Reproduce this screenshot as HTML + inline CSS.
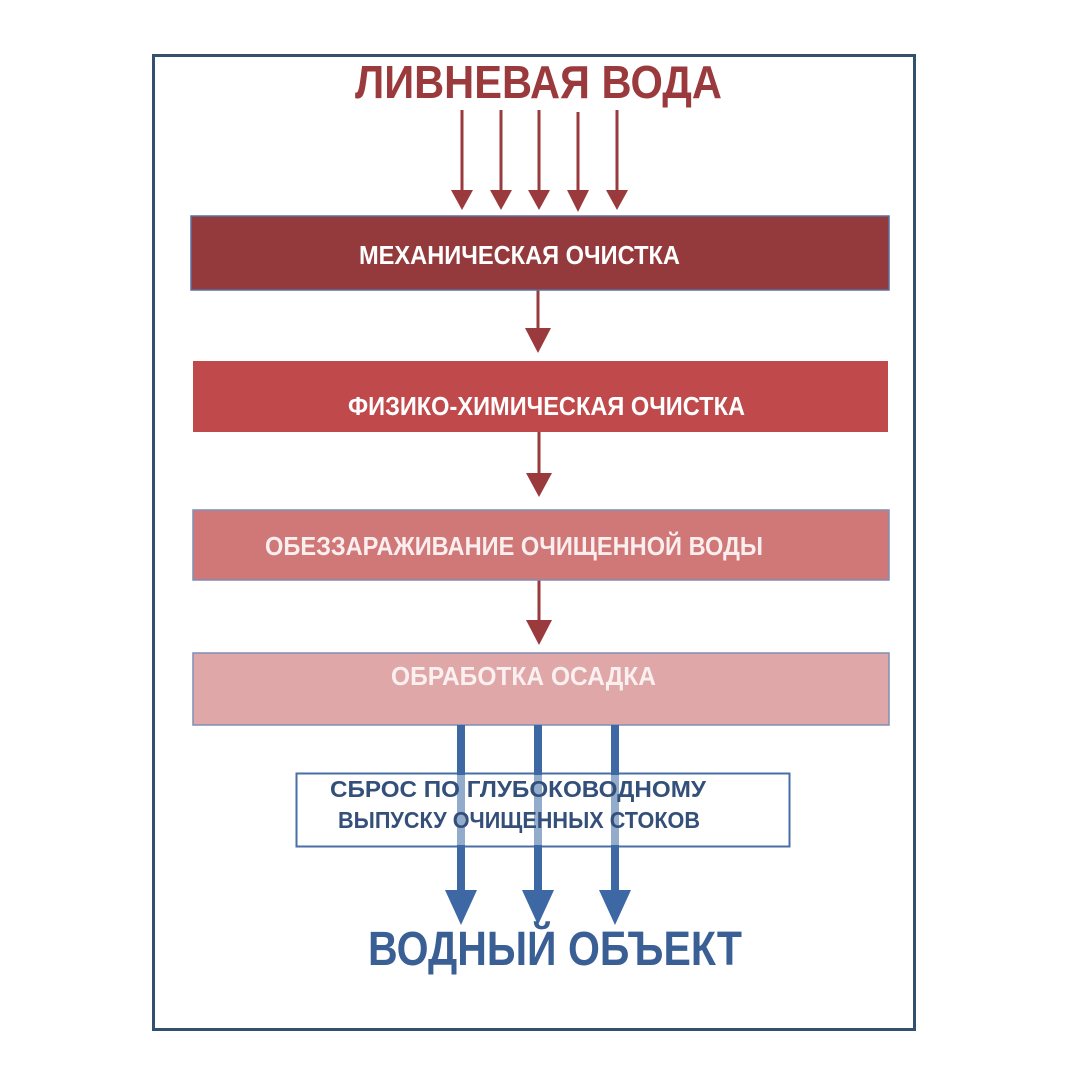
<!DOCTYPE html>
<html><head><meta charset="utf-8"><style>
html,body{margin:0;padding:0;background:#fff;}
svg{display:block;}
text{font-family:"Liberation Sans",sans-serif;font-weight:bold;}
</style></head><body>
<svg width="1080" height="1080" viewBox="0 0 1080 1080" xmlns="http://www.w3.org/2000/svg">
<rect x="0" y="0" width="1080" height="1080" fill="#fff"/>
<rect x="153.5" y="55.5" width="761" height="974" fill="#fff" stroke="#34506f" stroke-width="3"/>
<text x="355" y="98" font-size="46" fill="#9a3a3c" textLength="367" lengthAdjust="spacingAndGlyphs">ЛИВНЕВАЯ ВОДА</text>
<g fill="#9a3a3c" stroke="#9a3a3c">
<g stroke-width="3">
<line x1="462" y1="110" x2="462" y2="192"/><line x1="501" y1="110" x2="501" y2="192"/><line x1="539" y1="110" x2="539" y2="192"/><line x1="578" y1="112" x2="578" y2="192"/><line x1="617" y1="110" x2="617" y2="192"/>
<line x1="538" y1="290" x2="538" y2="330"/><line x1="539" y1="432" x2="539" y2="475"/><line x1="539" y1="580" x2="539" y2="622"/>
</g>
<g stroke="none">
<polygon points="451,190 473,190 462,210"/><polygon points="490,190 512,190 501,210"/><polygon points="528,190 550,190 539,210"/><polygon points="567,190 589,190 578,212"/><polygon points="606,190 628,190 617,210"/>
<polygon points="525,328 551,328 538,353"/><polygon points="526,473 552,473 539,497"/><polygon points="526,620 552,620 539,645"/>
</g></g>
<rect x="191" y="216" width="698" height="74" fill="#953a3c" stroke="#5a6fa0" stroke-width="1.5"/>
<rect x="193" y="361" width="695" height="71" fill="#c0494b"/>
<rect x="193" y="510" width="696" height="70" fill="#d07878" stroke="#7f8fb5" stroke-width="1.5"/>
<rect x="193" y="653" width="696" height="72" fill="#e0a7a9" stroke="#7f8fb5" stroke-width="1.5"/>
<text x="359" y="264" font-size="26" fill="#fff" textLength="321" lengthAdjust="spacingAndGlyphs">МЕХАНИЧЕСКАЯ ОЧИСТКА</text>
<text x="348" y="415" font-size="26" fill="#fff" textLength="397" lengthAdjust="spacingAndGlyphs">ФИЗИКО-ХИМИЧЕСКАЯ ОЧИСТКА</text>
<text x="265" y="555" font-size="26" fill="#fbeeee" textLength="498" lengthAdjust="spacingAndGlyphs">ОБЕЗЗАРАЖИВАНИЕ ОЧИЩЕННОЙ ВОДЫ</text>
<text x="391" y="685" font-size="26" fill="#fbf0f0" textLength="265" lengthAdjust="spacingAndGlyphs">ОБРАБОТКА ОСАДКА</text>
<rect x="296.5" y="773.5" width="493" height="73" fill="#fff" stroke="#4a6fa5" stroke-width="2"/>
<g fill="#3d68a3">
<rect x="457" y="725" width="8" height="170"/><rect x="534" y="725" width="8" height="170"/><rect x="611" y="725" width="8" height="170"/>
<polygon points="445,890 477,890 461,925"/><polygon points="522,890 554,890 538,925"/><polygon points="599,890 631,890 615,925"/>
</g>
<rect x="298" y="775" width="490" height="70" fill="#fff" opacity="0.45"/>
<text x="330" y="797" font-size="23" fill="#34507a" textLength="376" lengthAdjust="spacingAndGlyphs">СБРОС ПО  ГЛУБОКОВОДНОМУ</text>
<text x="338" y="828" font-size="23" fill="#34507a" textLength="362" lengthAdjust="spacingAndGlyphs">ВЫПУСКУ ОЧИЩЕННЫХ СТОКОВ</text>
<text x="368" y="965" font-size="48" fill="#3a5f94" textLength="374" lengthAdjust="spacingAndGlyphs">ВОДНЫЙ ОБЪЕКТ</text>
</svg>
</body></html>
